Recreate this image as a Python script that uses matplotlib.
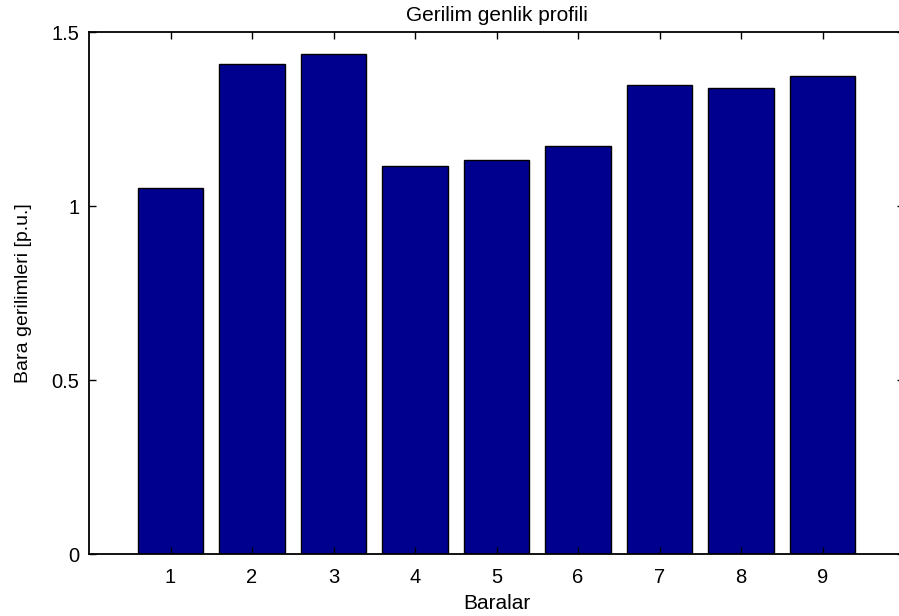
import numpy as np
import matplotlib
matplotlib.use('Agg')
import matplotlib.pyplot as plt

plt.rcParams['font.family'] = ['Liberation Sans', 'DejaVu Sans']

buses = [1, 2, 3, 4, 5, 6, 7, 8, 9]
voltages = [1.053, 1.409, 1.436, 1.116, 1.132, 1.172, 1.347, 1.339, 1.374]

fig = plt.figure(figsize=(8.99, 6.16), dpi=100)
ax = fig.add_axes([0.099, 0.1006, 0.9066, 0.8474])

ax.bar(buses, voltages, width=0.8, color='#00008f', edgecolor='black', linewidth=1.0)

ax.set_xlim(0, 10)
ax.set_ylim(0, 1.5)
ax.set_xticks(buses)
ax.set_yticks([0, 0.5, 1, 1.5])
ax.set_yticklabels(['0', '0.5', '1', '1.5'])
ax.tick_params(direction='in', length=5, width=1, top=True, right=True,
               labelsize=14.5, pad=7)
ax.tick_params(axis='x', pad=10)
for s in ax.spines.values():
    s.set_linewidth(1.3)

ax.set_title('Gerilim genlik profili', fontsize=15, pad=8)
ax.set_xlabel('Baralar', fontsize=15, labelpad=5)
ax.set_ylabel('Bara gerilimleri [p.u.]', fontsize=14, labelpad=14)

fig.savefig('out.png', dpi=100)
